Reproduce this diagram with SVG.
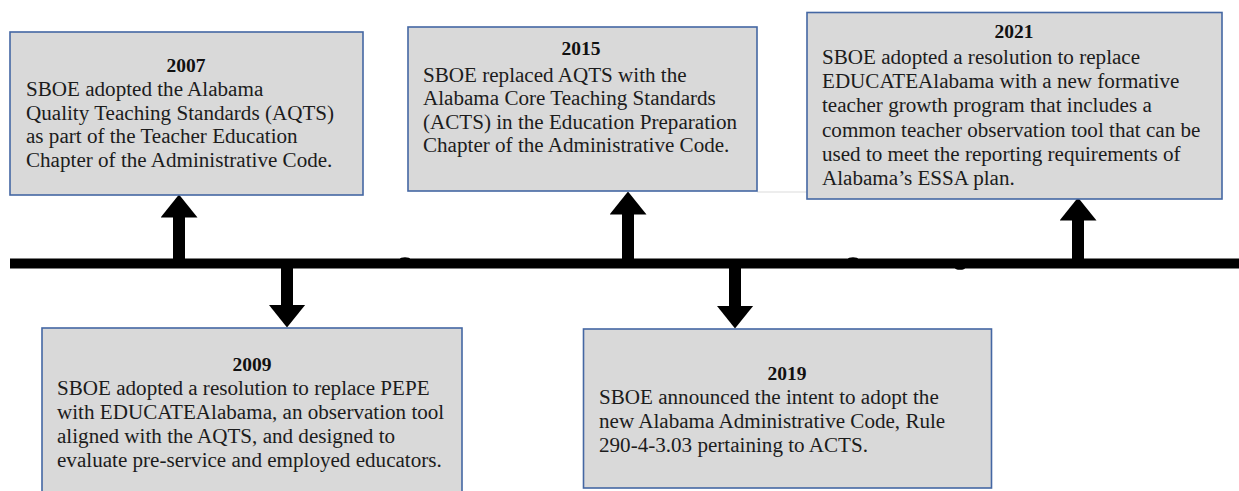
<svg xmlns="http://www.w3.org/2000/svg" width="1239" height="491" viewBox="0 0 1239 491">
<style>
.box{fill:#d9d9d9;stroke:#4467a3;stroke-width:1.6}
.yr{font-family:"Liberation Serif","Times New Roman",serif;font-weight:bold;font-size:19.5px;fill:#111;text-anchor:middle}
.tx{font-family:"Liberation Serif","Times New Roman",serif;font-size:21.1px;fill:#1c1c1c}
.axis{stroke:#000;stroke-width:10}
.arr{stroke:#000;stroke-width:12;fill:none;marker-end:url(#head)}
.bump{fill:#000}
</style>
<defs>
<marker id="head" markerUnits="userSpaceOnUse" markerWidth="23" markerHeight="37" viewBox="0 0 23 37" refX="0.5" refY="18.5" orient="auto">
<path d="M0,0 L23,18.5 L0,37 Z" fill="#000"/>
</marker>
</defs>
<rect width="1239" height="491" fill="#fff"/>
<g id="connectors">
<line x1="757" y1="192" x2="807" y2="192" stroke="#dcdcdc" stroke-width="1.2"/>
<line class="axis" x1="10" y1="263.5" x2="1239" y2="263.5"/>
<ellipse class="bump" cx="405" cy="259" rx="5" ry="1.8"/>
<ellipse class="bump" cx="853" cy="259" rx="5" ry="1.8"/>
<ellipse class="bump" cx="960" cy="268" rx="5" ry="1.8"/>
<line class="arr" x1="179" y1="264" x2="179" y2="217"/>
<line class="arr" x1="287" y1="263" x2="287" y2="305"/>
<line class="arr" x1="628" y1="264" x2="628" y2="214"/>
<line class="arr" x1="735" y1="263" x2="735" y2="306"/>
<line class="arr" x1="1078" y1="264" x2="1078" y2="220"/>
</g>
<g id="node-2007">
<rect class="box" x="10" y="32" width="353" height="163"/>
<text class="yr" x="186" y="72">2007</text>
<text class="tx" x="26" y="96">SBOE adopted the Alabama</text>
<text class="tx" x="26" y="119.5">Quality Teaching Standards (AQTS)</text>
<text class="tx" x="26" y="143">as part of the Teacher Education</text>
<text class="tx" x="26" y="166.5">Chapter of the Administrative Code.</text>
</g>
<g id="node-2015">
<rect class="box" x="408" y="27" width="349" height="164"/>
<text class="yr" x="581" y="55">2015</text>
<text class="tx" x="423" y="81.5">SBOE replaced AQTS with the</text>
<text class="tx" x="423" y="105">Alabama Core Teaching Standards</text>
<text class="tx" x="423" y="128.5">(ACTS) in the Education Preparation</text>
<text class="tx" x="423" y="152">Chapter of the Administrative Code.</text>
</g>
<g id="node-2021">
<rect class="box" x="807" y="12.5" width="415" height="186.5"/>
<text class="yr" x="1014" y="38">2021</text>
<text class="tx" x="822" y="64">SBOE adopted a resolution to replace</text>
<text class="tx" x="822" y="88">EDUCATEAlabama with a new formative</text>
<text class="tx" x="822" y="112">teacher growth program that includes a</text>
<text class="tx" x="822" y="136.5">common teacher observation tool that can be</text>
<text class="tx" x="822" y="160.5">used to meet the reporting requirements of</text>
<text class="tx" x="822" y="184.5">Alabama’s ESSA plan.</text>
</g>
<g id="node-2009">
<rect class="box" x="42" y="328" width="420" height="170"/>
<text class="yr" x="252" y="371">2009</text>
<text class="tx" x="57" y="395">SBOE adopted a resolution to replace PEPE</text>
<text class="tx" x="57" y="419">with EDUCATEAlabama, an observation tool</text>
<text class="tx" x="57" y="443">aligned with the AQTS, and designed to</text>
<text class="tx" x="57" y="467">evaluate pre-service and employed educators.</text>
</g>
<g id="node-2019">
<rect class="box" x="583.5" y="329" width="408" height="159"/>
<text class="yr" x="787" y="379.5">2019</text>
<text class="tx" x="599" y="403.5">SBOE announced the intent to adopt the</text>
<text class="tx" x="599" y="427.5">new Alabama Administrative Code, Rule</text>
<text class="tx" x="599" y="451.5">290-4-3.03 pertaining to ACTS.</text>
</g>
</svg>
